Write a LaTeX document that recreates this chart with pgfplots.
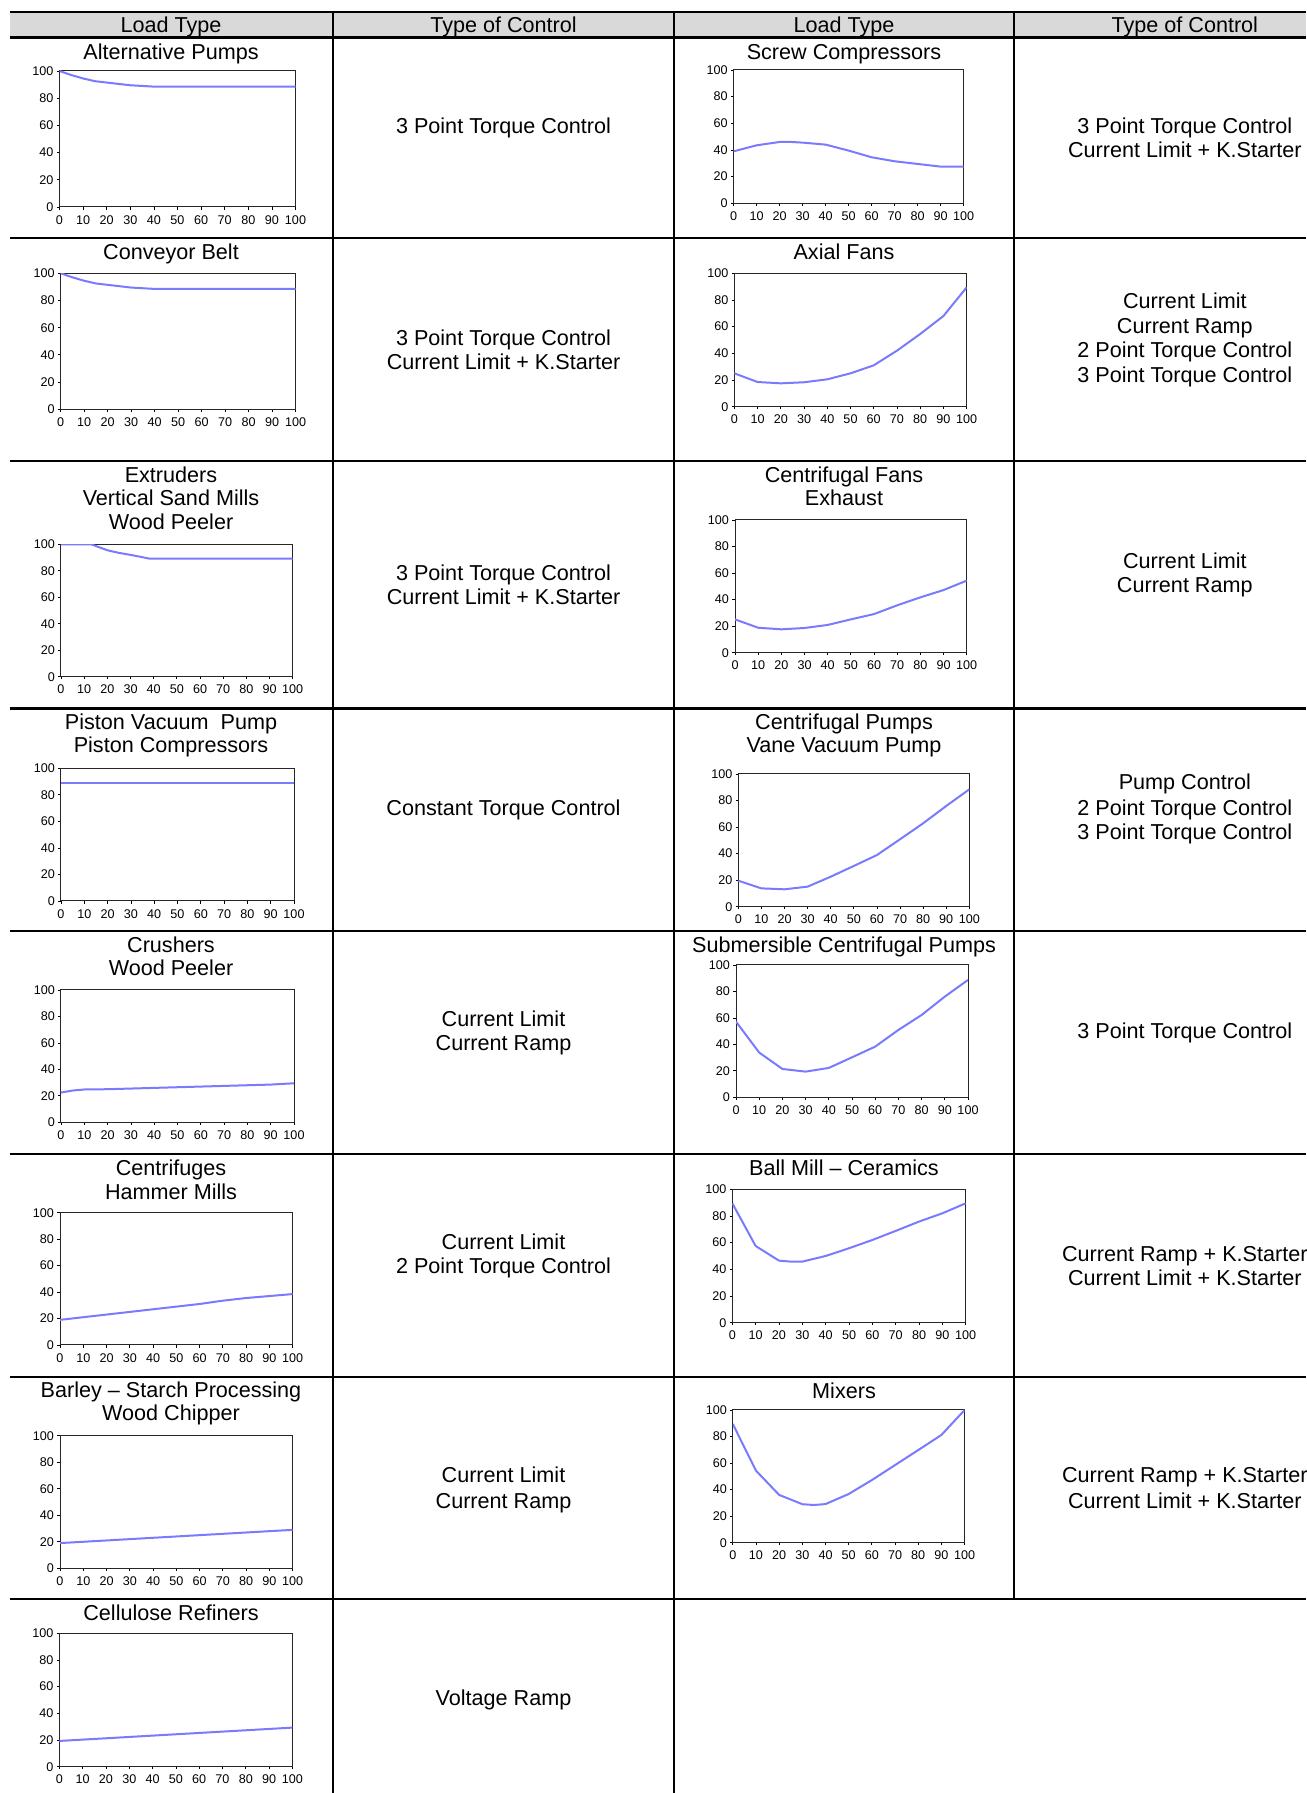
\documentclass[border=0pt]{standalone}
\usepackage{fontspec}
\setmainfont{Liberation Sans}
\usepackage{pgfplots}
\pgfplotsset{compat=1.18}
\definecolor{linec}{RGB}{122,122,255}
\pgfplotsset{
 mini/.style={
   scale only axis, anchor=south west,
   xmin=0, xmax=100, ymin=0, ymax=100,
   xtick={0,10,...,100}, ytick={0,20,...,100},
   xtick pos=left, ytick pos=left,
   tick align=outside,
   major tick length=1.3pt,
   every tick/.style={black, line width=0.4pt},
   axis line style={black!85, line width=0.5pt},
   /pgf/number format/assume math mode=true,
   tick label style={font=\fontsize{6.3}{7}\selectfont},
   yticklabel style={inner sep=1.5pt},
   xticklabel style={inner sep=0.5pt, yshift=-2.2pt},
   cycle list={{color=linec, mark=none}},
   every axis plot post/.append style={line width=1pt, line join=round},
 }
}
\tikzset{txt/.style={font=\fontsize{10.8}{12}\selectfont, inner sep=0pt, text height=7.7pt, text depth=0pt, anchor=center}}
\begin{document}
\begin{tikzpicture}
\path[use as bounding box] (0,0) rectangle (653pt,896.5pt);
% header
\fill[gray!30] (4.75pt,877.75pt) rectangle (653pt,890.65pt);
% horizontal lines
\foreach \yy in {890.65,877.75,777.5,666.1,542.25,431,319.5,208.15,97}{
  \draw[line width=1.1pt] (4.75pt,\yy pt) -- (653pt,\yy pt);
}
% vertical lines
\draw[line width=0.9pt] (166.5pt,890.65pt) -- (166.5pt,0pt);
\draw[line width=0.9pt] (337pt,890.65pt) -- (337pt,0pt);
\draw[line width=0.9pt] (507pt,890.65pt) -- (507pt,97pt);
% header text
\node[txt] at (85.5pt,884.2pt) {Load Type};
\node[txt] at (251.75pt,884.2pt) {Type of Control};
\node[txt] at (422pt,884.2pt) {Load Type};
\node[txt] at (592.4pt,884.2pt) {Type of Control};

% ---------- Left column charts ----------
\begin{axis}[mini, at={(29.75pt,793pt)}, width=118pt, height=68pt]
\addplot coordinates {(0,100) (5,97) (10,94.5) (15,92.5) (20,91.5) (25,90.5) (30,89.5) (35,89) (40,88.5) (100,88.5)};
\end{axis}
\begin{axis}[mini, at={(30.35pt,691.85pt)}, width=117.5pt, height=68pt]
\addplot coordinates {(0,100) (5,97) (10,94.5) (15,92.5) (20,91.5) (25,90.5) (30,89.5) (35,89) (40,88.5) (100,88.5)};
\end{axis}
\begin{axis}[mini, at={(30.5pt,558.15pt)}, width=115.85pt, height=66.2pt]
\addplot coordinates {(0,100) (13,100) (20,95.5) (25,93.5) (30,92) (35,90.3) (38,89.2) (100,89.2)};
\end{axis}
\begin{axis}[mini, at={(30.5pt,446pt)}, width=116.5pt, height=66.35pt]
\addplot coordinates {(0,89) (100,89)};
\end{axis}
\begin{axis}[mini, at={(30.5pt,335.35pt)}, width=116.5pt, height=66.15pt]
\addplot coordinates {(0,22.5) (5,24) (10,24.8) (20,25) (30,25.5) (40,26) (50,26.5) (60,27) (70,27.5) (80,28) (90,28.5) (100,29.5)};
\end{axis}
\begin{axis}[mini, at={(30pt,224pt)}, width=116.35pt, height=66.15pt]
\addplot coordinates {(0,19) (10,21) (20,23) (30,25) (40,27) (50,29) (60,31) (70,33.5) (80,35.5) (90,37) (100,38.5)};
\end{axis}
\begin{axis}[mini, at={(30pt,112.35pt)}, width=116.35pt, height=66.3pt]
\addplot coordinates {(0,19) (10,20) (20,21) (30,22) (40,23) (50,24) (60,25) (70,26) (80,27) (90,28) (100,29)};
\end{axis}
\begin{axis}[mini, at={(29.7pt,13.15pt)}, width=116.5pt, height=66.7pt]
\addplot coordinates {(0,19.3) (10,20.3) (20,21.3) (30,22.3) (40,23.3) (50,24.3) (60,25.3) (70,26.3) (80,27.3) (90,28.3) (100,29.3)};
\end{axis}

% ---------- Right column charts ----------
\begin{axis}[mini, at={(366.85pt,794.85pt)}, width=115pt, height=66.65pt]
\addplot coordinates {(0,39) (10,43.5) (20,46) (25,46) (30,45.5) (40,44) (50,39.5) (60,34.5) (70,31.5) (80,29.5) (90,27.5) (100,27.5)};
\end{axis}
\begin{axis}[mini, at={(367.15pt,693.15pt)}, width=116.2pt, height=66.7pt]
\addplot coordinates {(0,25) (10,18.5) (15,18) (20,17.5) (30,18.3) (40,20.5) (50,25) (60,31) (70,42) (80,54.5) (90,68) (100,89.5)};
\end{axis}
\begin{axis}[mini, at={(367.5pt,570.15pt)}, width=115.85pt, height=66.35pt]
\addplot coordinates {(0,25.1) (10,18.8) (20,17.6) (30,18.6) (40,20.9) (50,25.1) (60,29.1) (70,35.7) (80,41.7) (90,47.2) (100,54.3)};
\end{axis}
\begin{axis}[mini, at={(369.15pt,443.15pt)}, width=115.5pt, height=66.35pt]
\addplot coordinates {(0,19.6) (10,13.8) (20,13.1) (30,15.1) (40,22.6) (50,30.7) (60,38.9) (70,50.8) (80,62.8) (90,75.9) (100,88.4)};
\end{axis}
\begin{axis}[mini, at={(368pt,347.85pt)}, width=116pt, height=66.15pt]
\addplot coordinates {(0,57.2) (10,33.8) (20,21.4) (30,19.4) (40,22.2) (50,30.2) (60,38.3) (70,50.9) (80,62.2) (90,76.1) (100,88.7)};
\end{axis}
\begin{axis}[mini, at={(366.15pt,235.15pt)}, width=116.7pt, height=66.7pt]
\addplot coordinates {(0,89.5) (10,57.5) (20,46.5) (25,45.8) (30,45.8) (40,50) (50,55.8) (60,62) (70,68.8) (80,75.8) (90,82) (100,89.5)};
\end{axis}
\begin{axis}[mini, at={(366.4pt,125.15pt)}, width=115.9pt, height=66.35pt]
\addplot coordinates {(0,89.4) (10,54.3) (20,36) (30,29) (35,28.4) (40,29.1) (50,36.7) (60,47.2) (70,58.5) (80,69.8) (90,81.2) (100,100)};
\end{axis}

% ---------- Chart titles ----------
\node[txt] at (85.5pt,870.65pt) {Alternative Pumps};
\node[txt] at (85.5pt,770.65pt) {Conveyor Belt};
\node[txt] at (85.5pt,659pt) {Extruders};
\node[txt] at (85.5pt,647.35pt) {Vertical Sand Mills};
\node[txt] at (85.5pt,635.7pt) {Wood Peeler};
\node[txt] at (85.5pt,535.65pt) {Piston Vacuum\ \ Pump};
\node[txt] at (85.5pt,524pt) {Piston Compressors};
\node[txt] at (85.5pt,424pt) {Crushers};
\node[txt] at (85.5pt,412.35pt) {Wood Peeler};
\node[txt] at (85.5pt,312.35pt) {Centrifuges};
\node[txt] at (85.5pt,300.65pt) {Hammer Mills};
\node[txt] at (85.5pt,201.5pt) {Barley -- Starch Processing};
\node[txt] at (85.5pt,189.85pt) {Wood Chipper};
\node[txt] at (85.5pt,89.85pt) {Cellulose Refiners};

\node[txt] at (422pt,870.5pt) {Screw Compressors};
\node[txt] at (422pt,770.65pt) {Axial Fans};
\node[txt] at (422pt,659pt) {Centrifugal Fans};
\node[txt] at (422pt,647.35pt) {Exhaust};
\node[txt] at (422pt,535.65pt) {Centrifugal Pumps};
\node[txt] at (422pt,524pt) {Vane Vacuum Pump};
\node[txt] at (422pt,424pt) {Submersible Centrifugal Pumps};
\node[txt] at (422pt,312.5pt) {Ball Mill -- Ceramics};
\node[txt] at (422pt,201.15pt) {Mixers};

% ---------- Control texts ----------
\node[txt] at (251.75pt,833.6pt) {3 Point Torque Control};
\node[txt] at (592.4pt,833.6pt) {3 Point Torque Control};
\node[txt] at (592.4pt,821.6pt) {Current Limit + K.Starter};

\node[txt] at (251.75pt,727.8pt) {3 Point Torque Control};
\node[txt] at (251.75pt,715.8pt) {Current Limit + K.Starter};
\node[txt] at (592.4pt,746.1pt) {Current Limit};
\node[txt] at (592.4pt,733.55pt) {Current Ramp};
\node[txt] at (592.4pt,721.55pt) {2 Point Torque Control};
\node[txt] at (592.4pt,708.95pt) {3 Point Torque Control};

\node[txt] at (251.75pt,610.05pt) {3 Point Torque Control};
\node[txt] at (251.75pt,598pt) {Current Limit + K.Starter};
\node[txt] at (592.4pt,616.3pt) {Current Limit};
\node[txt] at (592.4pt,604.3pt) {Current Ramp};

\node[txt] at (251.75pt,492.8pt) {Constant Torque Control};
\node[txt] at (592.4pt,505.4pt) {Pump Control};
\node[txt] at (592.4pt,492.8pt) {2 Point Torque Control};
\node[txt] at (592.4pt,480.8pt) {3 Point Torque Control};

\node[txt] at (251.75pt,387.05pt) {Current Limit};
\node[txt] at (251.75pt,375pt) {Current Ramp};
\node[txt] at (592.4pt,381.3pt) {3 Point Torque Control};

\node[txt] at (251.75pt,275.55pt) {Current Limit};
\node[txt] at (251.75pt,263.5pt) {2 Point Torque Control};
\node[txt] at (592.4pt,269.8pt) {Current Ramp + K.Starter};
\node[txt] at (592.4pt,257.8pt) {Current Limit + K.Starter};

\node[txt] at (251.75pt,158.9pt) {Current Limit};
\node[txt] at (251.75pt,146.3pt) {Current Ramp};
\node[txt] at (592.4pt,158.9pt) {Current Ramp + K.Starter};
\node[txt] at (592.4pt,146.3pt) {Current Limit + K.Starter};

\node[txt] at (251.75pt,47.4pt) {Voltage Ramp};
\end{tikzpicture}
\end{document}
